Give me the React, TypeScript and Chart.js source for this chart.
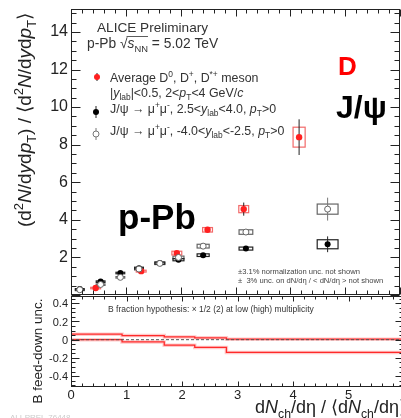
import React, { useEffect, useRef } from 'react';
import { Chart, registerables } from 'chart.js';

Chart.register(...registerables);

// ---------- data ----------
const dX = [0.45, 1.28, 1.93, 2.49, 3.15, 4.16];
const dY = [0.37, 1.27, 2.23, 3.47, 4.57, 8.4];
const dErr = [0.03, 0.05, 0.08, 0.12, 0.35, 0.95];
const dSysX = [0.09, 0.09, 0.09, 0.09, 0.09, 0.11];
const dSysY = [0.04, 0.05, 0.1, 0.12, 0.19, 0.53];

const jX = [0.16, 0.54, 0.9, 1.24, 1.62, 1.96, 2.41, 3.19, 4.68];
const jFwdY = [0.32, 0.72, 1.17, 1.43, 1.7, 1.88, 2.12, 2.47, 2.7];
const jFwdErr = [0.03, 0.04, 0.05, 0.05, 0.06, 0.07, 0.08, 0.12, 0.42];
const jFwdSysY = [0.02, 0.03, 0.04, 0.05, 0.06, 0.06, 0.07, 0.08, 0.24];
const jBwdY = [0.28, 0.56, 0.94, 1.38, 1.68, 2.0, 2.6, 3.35, 4.57];
const jBwdErr = [0.03, 0.04, 0.05, 0.06, 0.07, 0.08, 0.1, 0.15, 0.61];
const jBwdSysY = [0.03, 0.03, 0.04, 0.05, 0.06, 0.07, 0.1, 0.12, 0.27];
const jSysX = [0.08, 0.08, 0.08, 0.08, 0.09, 0.1, 0.11, 0.125, 0.19];

const bEdges = [0, 0.92, 1.68, 2.23, 2.8, 6];
const bUpper = [0.06, 0.045, 0.03, 0.02, 0.006];
const bLower = [0.0, -0.025, -0.06, -0.085, -0.14];

const topYTicks = [2, 4, 6, 8, 10, 12, 14];
const botYTicks = [0.4, 0.2, 0, -0.2, -0.4];
const xTicks = [0, 1, 2, 3, 4, 5, 6];

const FONT = '"Liberation Sans", Arial, Helvetica, sans-serif';

// ---------- rich text ----------
type Seg = { t: string; it: boolean; pos: number };
function parseRich(s: string): Seg[] {
  const segs: Seg[] = [];
  let i = 0;
  let buf = '';
  const flush = () => {
    if (buf) { segs.push({ t: buf, it: false, pos: 0 }); buf = ''; }
  };
  while (i < s.length) {
    const c = s[i];
    if ((c === '_' || c === '^' || c === '*') && s[i + 1] === '{') {
      flush();
      const end = s.indexOf('}', i + 2);
      segs.push({ t: s.slice(i + 2, end), it: c === '*', pos: c === '_' ? -1 : c === '^' ? 1 : 0 });
      i = end + 1;
    } else { buf += c; i++; }
  }
  flush();
  return segs;
}
function drawRich(ctx: CanvasRenderingContext2D, s: string, x: number, y: number, size: number,
  o: { bold?: boolean; color?: string; align?: string; family?: string } = {}) {
  const segs = parseRich(s);
  const fam = o.family || FONT;
  const fontFor = (g: Seg) => `${g.it ? 'italic ' : ''}${o.bold ? 'bold ' : ''}${g.pos ? size * 0.68 : size}px ${fam}`;
  let w = 0;
  for (const g of segs) { ctx.font = fontFor(g); w += ctx.measureText(g.t).width; }
  let cx = o.align === 'right' ? x - w : o.align === 'center' ? x - w / 2 : x;
  ctx.fillStyle = o.color || '#333';
  ctx.textBaseline = 'alphabetic';
  ctx.textAlign = 'left';
  for (const g of segs) {
    ctx.font = fontFor(g);
    const dy = g.pos === -1 ? size * 0.28 : g.pos === 1 ? -size * 0.4 : 0;
    ctx.fillText(g.t, cx, y + dy);
    cx += ctx.measureText(g.t).width;
  }
  return w;
}

// ---------- plugins ----------
const errBoxes = {
  id: 'errBoxes',
  beforeDatasetsDraw(chart: any) {
    const { ctx, scales } = chart;
    const xs = scales.x, ys = scales.y;
    chart.data.datasets.forEach((ds: any) => {
      if (!ds.errY) return;
      ctx.save();
      ds.data.forEach((p: any, i: number) => {
        const px = xs.getPixelForValue(p.x);
        const x0 = xs.getPixelForValue(p.x - ds.sysX[i]);
        const x1 = xs.getPixelForValue(p.x + ds.sysX[i]);
        const y0 = ys.getPixelForValue(p.y + ds.sysY[i]);
        const y1 = ys.getPixelForValue(p.y - ds.sysY[i]);
        ctx.strokeStyle = ds.sysColor;
        ctx.lineWidth = 1.2;
        ctx.strokeRect(x0, y0, x1 - x0, Math.max(1.5, y1 - y0));
        ctx.strokeStyle = ds.errColor;
        ctx.lineWidth = 1;
        ctx.beginPath();
        ctx.moveTo(px, ys.getPixelForValue(p.y + ds.errY[i]));
        ctx.lineTo(px, ys.getPixelForValue(p.y - ds.errY[i]));
        ctx.stroke();
      });
      ctx.restore();
    });
  },
};

function drawAxes(chart: any, o: any) {
  const { ctx, chartArea: a, scales } = chart;
  const xs = scales.x, ys = scales.y;
  ctx.save();
  ctx.strokeStyle = '#222';
  ctx.lineWidth = 1;
  const L = Math.round(a.left) + 0.5, R = Math.round(a.right) - 0.5;
  const T = Math.round(a.top) + 0.5, B = Math.round(a.bottom) - 0.5;
  ctx.strokeRect(L, T, R - L, B - T);
  ctx.beginPath();
  const steps = (min: number, max: number, step: number) => {
    const out: number[] = [];
    for (let k = Math.ceil(min / step - 1e-9); k <= Math.floor(max / step + 1e-9); k++) out.push(k * step);
    return out;
  };
  const isMajor = (v: number, m: number) => Math.abs(v / m - Math.round(v / m)) < 1e-6;
  for (const v of steps(xs.min, xs.max, o.xMinor)) {
    const px = Math.round(xs.getPixelForValue(v)) + 0.5;
    const maj = isMajor(v, o.xMajor);
    const lb = maj ? o.xLenB[0] : o.xLenB[1];
    const lt = maj ? o.xLenT[0] : o.xLenT[1];
    ctx.moveTo(px, B); ctx.lineTo(px, B - lb);
    ctx.moveTo(px, T); ctx.lineTo(px, T + lt);
  }
  for (const v of steps(ys.min, ys.max, o.yMinor)) {
    const py = Math.round(ys.getPixelForValue(v)) + 0.5;
    const maj = isMajor(v, o.yMajor);
    const l = maj ? o.yLen[0] : o.yLen[1];
    ctx.moveTo(L, py); ctx.lineTo(L + l, py);
    ctx.moveTo(R, py); ctx.lineTo(R - l, py);
  }
  ctx.stroke();
  ctx.fillStyle = '#222';
  ctx.textAlign = 'right';
  ctx.textBaseline = 'middle';
  ctx.font = `${o.yFont}px ${FONT}`;
  for (const v of o.yLabels) {
    ctx.fillText(String(v), a.left - 3, ys.getPixelForValue(v) + o.yLabelDy);
  }
  if (o.xLabels) {
    ctx.textAlign = 'center';
    ctx.textBaseline = 'top';
    ctx.font = `${o.xFont}px ${FONT}`;
    for (const v of o.xLabels) ctx.fillText(String(v), xs.getPixelForValue(v), a.bottom + 2);
  }
  ctx.restore();
}

const topDecor = {
  id: 'topDecor',
  afterDatasetsDraw(chart: any) {
    drawAxes(chart, {
      xMajor: 1, xMinor: 0.2, yMajor: 2, yMinor: 0.5,
      xLenB: [7, 4], xLenT: [7, 4], yLen: [9, 5],
      yLabels: topYTicks, yFont: 16, yLabelDy: 0,
    });
  },
  afterDraw(chart: any) {
    const ctx = chart.ctx as CanvasRenderingContext2D;
    ctx.save();
    drawRich(ctx, 'ALICE Preliminary', 97, 32, 13.6, { color: '#333' });
    const w1 = drawRich(ctx, 'p-Pb \u221A', 87, 48, 13.8, { color: '#333' });
    const w2 = drawRich(ctx, '*{s}_{NN}', 87 + w1, 48, 13.8, { color: '#333' });
    ctx.strokeStyle = '#333';
    ctx.lineWidth = 0.8;
    ctx.beginPath();
    ctx.moveTo(87 + w1 - 1, 36.5);
    ctx.lineTo(87 + w1 + w2, 36.5);
    ctx.stroke();
    drawRich(ctx, ' = 5.02 TeV', 87 + w1 + w2, 48, 13.8, { color: '#333' });

    drawRich(ctx, 'Average D^{0}, D^{+}, D^{*+} meson', 110, 82, 12.4, { color: '#333' });
    drawRich(ctx, '|*{y}_{lab}|<0.5, 2<*{p}_{T}<4 GeV/*{c}', 110, 97, 12.4, { color: '#333' });
    drawRich(ctx, 'J/\u03C8 \u2192 \u03BC^{+}\u03BC^{-}, 2.5<*{y}_{lab}<4.0, *{p}_{T}>0', 110, 113, 12.4, { color: '#333' });
    drawRich(ctx, 'J/\u03C8 \u2192 \u03BC^{+}\u03BC^{-}, -4.0<*{y}_{lab}<-2.5, *{p}_{T}>0', 110, 135, 12.4, { color: '#333' });

    // legend markers
    ctx.lineWidth = 1;
    ctx.strokeStyle = '#222';
    ctx.beginPath(); ctx.moveTo(97, 73); ctx.lineTo(97, 81); ctx.stroke();
    ctx.fillStyle = '#ff2020';
    ctx.beginPath(); ctx.arc(97, 77, 3, 0, Math.PI * 2); ctx.fill();
    ctx.beginPath(); ctx.moveTo(96, 106); ctx.lineTo(96, 118); ctx.stroke();
    ctx.fillStyle = '#000';
    ctx.beginPath(); ctx.arc(96, 112, 3, 0, Math.PI * 2); ctx.fill();
    ctx.strokeStyle = '#777';
    ctx.beginPath(); ctx.moveTo(96, 128); ctx.lineTo(96, 140); ctx.stroke();
    ctx.fillStyle = '#fff';
    ctx.beginPath(); ctx.arc(96, 134, 3, 0, Math.PI * 2); ctx.fill(); ctx.stroke();

    // big annotations
    drawRich(ctx, 'D', 338, 75, 26, { bold: true, color: '#ff0000' });
    drawRich(ctx, 'J/\u03C8', 336, 118, 32, { bold: true, color: '#000' });
    drawRich(ctx, 'p-Pb', 118, 229, 35, { bold: true, color: '#000' });

    drawRich(ctx, '\u00B13.1% normalization unc. not shown', 238, 274, 7.6, { color: '#444' });
    drawRich(ctx, '\u00B1  3% unc. on dN/d\u03B7 / < dN/d\u03B7 > not shown', 238, 283, 7.6, { color: '#444' });

    // y title
    ctx.save();
    ctx.translate(31, 120);
    ctx.rotate(-Math.PI / 2);
    drawRich(ctx, '(d^{2}*{N}/d*{y}d*{p}_{T}) / \u27E8d^{2}*{N}/d*{y}d*{p}_{T}\u27E9', 0, 0, 19, { align: 'center', color: '#222' });
    ctx.restore();
    ctx.restore();
  },
};

const botDecor = {
  id: 'botDecor',
  afterDatasetsDraw(chart: any) {
    drawAxes(chart, {
      xMajor: 1, xMinor: 0.2, yMajor: 0.2, yMinor: 0.05,
      xLenB: [5, 3], xLenT: [5, 3], yLen: [8, 4],
      yLabels: botYTicks, yFont: 11, yLabelDy: 1,
      xLabels: xTicks, xFont: 13,
    });
  },
  afterDraw(chart: any) {
    const ctx = chart.ctx as CanvasRenderingContext2D;
    ctx.save();
    drawRich(ctx, 'B fraction hypothesis: \u00D7 1/2 (2) at low (high) multiplicity', 108, 18, 8.5, { color: '#333' });
    drawRich(ctx, 'd*{N}_{ch}/d\u03B7 / \u27E8d*{N}_{ch}/d\u03B7\u27E9', 255, 119, 18, { color: '#222' });
    ctx.save();
    ctx.translate(42, 57);
    ctx.rotate(-Math.PI / 2);
    drawRich(ctx, 'B feed-down unc.', 0, 0, 13.5, { align: 'center', color: '#222' });
    ctx.restore();
    drawRich(ctx, 'ALI-PREL-76448', 10, 126, 8, { color: '#ccc' });
    ctx.restore();
  },
};

// ---------- components ----------
function TopPanel() {
  const ref = useRef<HTMLCanvasElement>(null);
  useEffect(() => {
    const pts = (xa: number[], ya: number[]) => xa.map((x, i) => ({ x, y: ya[i] }));
    const chart = new Chart(ref.current!, {
      type: 'scatter',
      data: {
        datasets: [
          {
            data: pts(jX, jBwdY), pointRadius: 3, pointBackgroundColor: '#fff', pointBorderColor: '#666', pointBorderWidth: 1,
            errY: jBwdErr, sysX: jSysX, sysY: jBwdSysY, sysColor: '#666', errColor: '#777',
          } as any,
          {
            data: pts(jX, jFwdY), pointRadius: 3, pointBackgroundColor: '#000', pointBorderColor: '#000', pointBorderWidth: 0,
            errY: jFwdErr, sysX: jSysX, sysY: jFwdSysY, sysColor: '#222', errColor: '#222',
          } as any,
          {
            data: pts(dX, dY), pointRadius: 3.2, pointBackgroundColor: '#ff2020', pointBorderColor: '#ff2020', pointBorderWidth: 0,
            errY: dErr, sysX: dSysX, sysY: dSysY, sysColor: '#f26a6a', errColor: '#222',
          } as any,
        ],
      },
      options: {
        animation: false,
        responsive: false,
        events: [],
        layout: { padding: { left: 71, top: 9, right: 1, bottom: 4 } },
        scales: {
          x: { type: 'linear', min: 0, max: 6, display: false },
          y: { type: 'linear', min: 0, max: 15.22, display: false },
        },
        plugins: { legend: { display: false }, tooltip: { enabled: false } },
      },
      plugins: [errBoxes, topDecor],
    });
    return () => chart.destroy();
  }, []);
  return <canvas ref={ref} width={405} height={300} style={{ position: 'absolute', left: 0, top: 0, width: 405, height: 300 }} />;
}

function BottomPanel() {
  const ref = useRef<HTMLCanvasElement>(null);
  useEffect(() => {
    const step = (vals: number[]) => [...bEdges.slice(0, -1).map((x, i) => ({ x, y: vals[i] })), { x: bEdges[bEdges.length - 1], y: vals[vals.length - 1] }];
    const chart = new Chart(ref.current!, {
      type: 'line',
      data: {
        datasets: [
          { data: [{ x: 0, y: 0 }, { x: 6, y: 0 }], borderColor: '#555', borderWidth: 1, borderDash: [3, 2], pointRadius: 0 },
          { data: step(bUpper), borderColor: 'rgba(255,80,80,0.3)', borderWidth: 3.5, stepped: 'before', pointRadius: 0 },
          { data: step(bLower), borderColor: 'rgba(255,80,80,0.3)', borderWidth: 3.5, stepped: 'before', pointRadius: 0 },
          { data: step(bUpper), borderColor: '#ff1a1a', borderWidth: 1.3, stepped: 'before', pointRadius: 0 },
          { data: step(bLower), borderColor: '#ff1a1a', borderWidth: 1.3, stepped: 'before', pointRadius: 0 },
        ],
      },
      options: {
        animation: false,
        responsive: false,
        events: [],
        layout: { padding: { left: 71, top: 2, right: 1, bottom: 31 } },
        scales: {
          x: { type: 'linear', min: 0, max: 6, display: false },
          y: { type: 'linear', min: -0.52, max: 0.48, display: false },
        },
        plugins: { legend: { display: false }, tooltip: { enabled: false } },
      },
      plugins: [botDecor],
    });
    return () => chart.destroy();
  }, []);
  return <canvas ref={ref} width={405} height={124} style={{ position: 'absolute', left: 0, top: 294, width: 405, height: 124 }} />;
}

export default function App() {
  return (
    <div style={{ position: 'fixed', left: 0, top: 0, width: 401, height: 418, background: '#fff', overflow: 'hidden' }}>
      <TopPanel />
      <BottomPanel />
    </div>
  );
}
